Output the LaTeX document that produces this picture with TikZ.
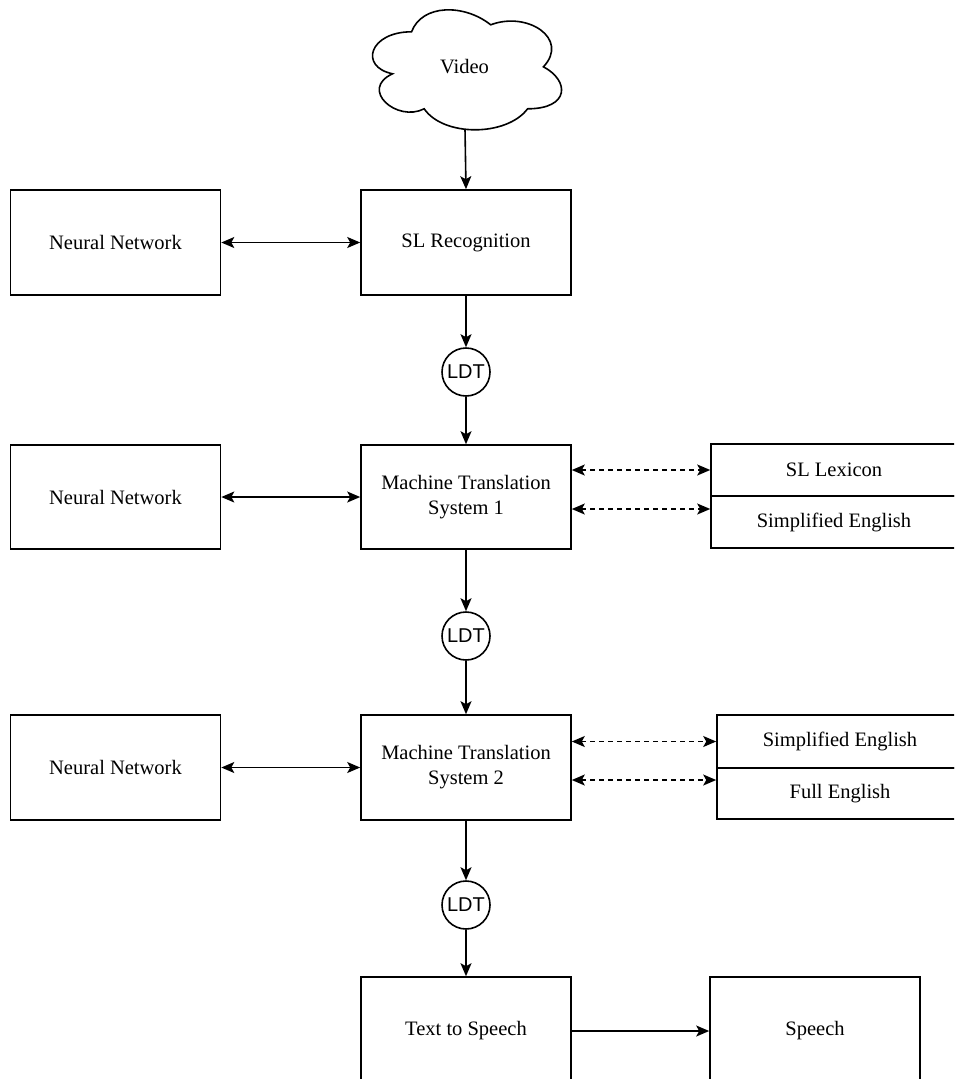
\documentclass[tikz,border=0pt]{standalone}
\usepackage{fontspec}
\setmainfont{Liberation Serif}
\newfontfamily\ldtfont{Liberation Sans}
\usetikzlibrary{arrows.meta}
\begin{document}
\begin{tikzpicture}[x=1pt,y=-1pt,
  lw/.style={line width=1.6pt},
  box/.style={draw, lw, minimum width=210pt, minimum height=105pt, inner sep=0pt,
    font=\fontsize{20.5}{25}\selectfont, align=center},
  cell/.style={draw, lw, minimum width=246pt, inner sep=0pt,
    font=\fontsize{20.5}{25}\selectfont},
  ldt/.style={draw, lw, circle, minimum size=48pt, inner sep=0pt,
    font=\ldtfont\fontsize{20}{24}\selectfont},
  tip/.style={Stealth[length=13pt,width=11pt,inset=3pt]},
  flow/.style={lw, -{Stealth[length=13pt,width=11pt,inset=3pt]}},
  both/.style={lw, {Stealth[length=13pt,width=11pt,inset=3pt]}-{Stealth[length=13pt,width=11pt,inset=3pt]}},
  dasharrow/.style={lw, dash pattern=on 5pt off 4pt,
    {Stealth[length=13pt,width=11pt,inset=3pt]}-{Stealth[length=13pt,width=11pt,inset=3pt]}}
]
\useasboundingbox (0,0) rectangle (954,1079);
\clip (0,0) rectangle (954,1079);

% source cloud
\node[minimum width=211pt, minimum height=140pt, inner sep=0pt,
  font=\fontsize{20.5}{25}\selectfont] (video) at (464.5,67) {Video};
\begin{scope}[shift={(video.north west)}, x=211pt, y=-140pt]
  \draw[lw] (0.25,0.25) .. controls (0.05,0.25) and (0,0.5) .. (0.16,0.55)
    .. controls (0,0.66) and (0.18,0.9) .. (0.31,0.8)
    .. controls (0.4,1) and (0.7,1) .. (0.8,0.8)
    .. controls (1,0.8) and (1,0.6) .. (0.875,0.5)
    .. controls (1,0.3) and (0.8,0.1) .. (0.625,0.2)
    .. controls (0.5,0.05) and (0.3,0.05) .. (0.25,0.25) -- cycle;
\end{scope}
\coordinate (cloudbot) at (465,129);

% main pipeline
\node[box] (slr)  at (466,242.5) {SL Recognition};
\node[box] (nn1)  at (115.5,242.5) {Neural Network};
\node[ldt] (ldt1) at (466,372) {LDT};
\node[box, minimum height=104pt] (mt1) at (466,497) {Machine Translation\\System 1};
\node[box, minimum height=104pt] (nn2) at (115.5,497) {Neural Network};
\node[ldt] (ldt2) at (466,636) {LDT};
\node[box] (mt2)  at (466,767.5) {Machine Translation\\System 2};
\node[box] (nn3)  at (115.5,767.5) {Neural Network};
\node[ldt] (ldt3) at (466,905) {LDT};
\node[box, minimum height=108pt] (tts) at (466,1031) {Text to Speech};
\node[box, minimum height=108pt] (speech) at (815,1031) {Speech};

% resource tables
\node[cell, minimum height=52pt] (lex) at (834,470) {SL Lexicon};
\node[cell, minimum height=52pt] (se1) at (834,522) {Simplified English};
\node[cell, minimum height=53pt] (se2) at (840,741.5) {Simplified English};
\node[cell, minimum height=51pt] (fe)  at (840,793.5) {Full English};

% flow
\draw[flow] (cloudbot) -- (slr.north);
\draw[flow] (slr.south) -- (ldt1.north);
\draw[flow] (ldt1.south) -- (mt1.north);
\draw[flow] (mt1.south) -- (ldt2.north);
\draw[flow] (ldt2.south) -- (mt2.north);
\draw[flow] (mt2.south) -- (ldt3.north);
\draw[flow] (ldt3.south) -- (tts.north);
\draw[flow] (tts.east) -- (speech.west);

% neural network links
\draw[both] (nn1.east) -- (slr.west);
\draw[both] (nn2.east) -- (mt1.west);
\draw[both] (nn3.east) -- (mt2.west);

% resource links
\draw[dasharrow] (mt1.east |- lex.west) -- (lex.west);
\draw[dasharrow] (mt1.east |- 0,509) -- (se1.west |- 0,509);
\draw[dasharrow] (mt2.east |- se2.west) -- (se2.west);
\draw[dasharrow] (mt2.east |- 0,780) -- (fe.west |- 0,780);
\end{tikzpicture}
\end{document}
